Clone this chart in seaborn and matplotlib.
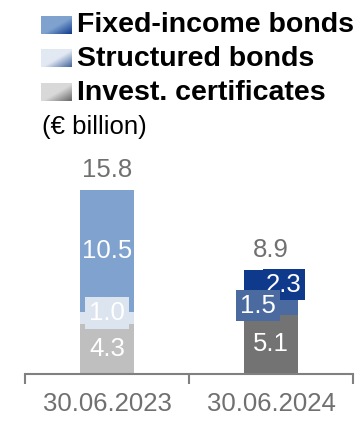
import numpy as np
import pandas as pd
import matplotlib
matplotlib.use("Agg")
import matplotlib.pyplot as plt
import seaborn as sns

# Data (€ billion)
dates = ["30.06.2023", "30.06.2024"]
invest_certificates = [4.3, 5.1]
structured_bonds = [1.0, 1.5]
fixed_income_bonds = [10.5, 2.3]
totals = [15.8, 8.9]
legend_labels = ["Fixed-income bonds", "Structured bonds", "Invest. certificates"]
unit_label = "(€ billion)"

# Colours per year for each layer
col_fixed = ["#7fa2cf", "#0f3a8c"]
col_struct = ["#dce4f0", "#4a6aa0"]
col_invest = ["#bfbfbf", "#737373"]
grey_text = "#707070"

sns.set_theme(style="white")
plt.rcParams["font.family"] = ["Liberation Sans", "DejaVu Sans"]

W, H, DPI = 364, 421, 100
fig = plt.figure(figsize=(W / DPI, H / DPI), dpi=DPI)
ax = fig.add_axes([25 / W, 47 / H, 328 / W, 234 / H])

df = pd.DataFrame({
    "date": dates,
    "invest": invest_certificates,
    "struct": structured_bonds,
    "fixed": fixed_income_bonds,
})
df["c1"] = df["invest"]
df["c2"] = df["invest"] + df["struct"]
df["c3"] = df["c2"] + df["fixed"]

bar_w = 0.335
for col, pal in [("c3", col_fixed), ("c2", col_struct), ("c1", col_invest)]:
    sns.barplot(data=df, x="date", y=col, hue="date", palette=pal,
                dodge=False, width=bar_w, legend=False, ax=ax,
                linewidth=0, saturation=1, zorder=2)

ax.set_xlim(-0.5, 1.5)
ax.set_ylim(0, 234 / 11.65)
ax.set_xlabel("")
ax.set_ylabel("")
ax.set_yticks([])
for s in ["top", "right", "left"]:
    ax.spines[s].set_visible(False)
ax.spines["bottom"].set_color("#808080")
ax.spines["bottom"].set_linewidth(1.5)
ax.set_xticks([0, 1])
ax.set_xticklabels(dates, fontsize=18.5, color=grey_text)
ax.tick_params(axis="x", which="major", length=0, pad=13)
ax.set_xticks([-0.5, 0.5, 1.5], minor=True)
ax.tick_params(axis="x", which="minor", bottom=True, length=7, width=1.5,
               color="#808080", direction="out")

px = 0.72  # points per pixel at 100 dpi


def seg_label(i, y, text, face, dx=0, dy=0, box=False, z=5):
    kw = dict(textcoords="offset points", ha="center", va="center",
              fontsize=18.5, color="white", zorder=z)
    if box:
        kw["bbox"] = dict(boxstyle="square,pad=0.14", fc=face, ec="none")
    ax.annotate(text, xy=(i, y), xytext=(dx * px, dy * px), **kw)


for i in range(2):
    c1 = df["c1"][i]
    c2 = df["c2"][i]
    c3 = df["c3"][i]
    seg_label(i, c1 / 2, f"{invest_certificates[i]:.1f}", col_invest[i])
    if i == 0:
        seg_label(i, (c1 + c2) / 2, f"{structured_bonds[i]:.1f}", col_struct[i],
                  dy=5, box=True)
        seg_label(i, (c2 + c3) / 2, f"{fixed_income_bonds[i]:.1f}", col_fixed[i])
    else:
        seg_label(i, (c2 + c3) / 2, f"{fixed_income_bonds[i]:.1f}", col_fixed[i],
                  dx=13, dy=-1, box=True, z=5)
        seg_label(i, (c1 + c2) / 2, f"{structured_bonds[i]:.1f}", col_struct[i],
                  dx=-13, box=True, z=6)
    ax.annotate(f"{totals[i]:.1f}", xy=(i, c3), xytext=(0, 20 * px),
                textcoords="offset points", ha="center", va="center",
                fontsize=18.5, color=grey_text)

# Legend with gradient swatches, drawn in pixel coordinates
lax = fig.add_axes([0, 0, 1, 1])
lax.axis("off")
lax.patch.set_alpha(0)

swatches = [("#7fa2cf", "#143f8f"), ("#e2e9f3", "#4a6aa0"), ("#d9d9d9", "#6a6a6a")]
rows = [25.0, 58.5, 92.5]
u = np.linspace(0, 1, 64)
U, V = np.meshgrid(u, u)
t = np.clip((U + V - 1.05) / 0.9, 0, 1)
for (light, dark), yc, lab in zip(swatches, rows, legend_labels):
    a = np.array(matplotlib.colors.to_rgb(light))
    b = np.array(matplotlib.colors.to_rgb(dark))
    img = a[None, None, :] * (1 - t[..., None]) + b[None, None, :] * t[..., None]
    lax.imshow(img, extent=(41, 72, yc + 9, yc - 9), aspect="auto",
               interpolation="bilinear", zorder=3)
    lax.text(77, yc, lab, fontsize=20.5, fontweight="bold", color="black",
             ha="left", va="center")
lax.set_xlim(0, W)
lax.set_ylim(H, 0)
lax.text(42, 127, unit_label, fontsize=18.5, color="black", ha="left", va="center")

fig.savefig("out.png", dpi=DPI)
